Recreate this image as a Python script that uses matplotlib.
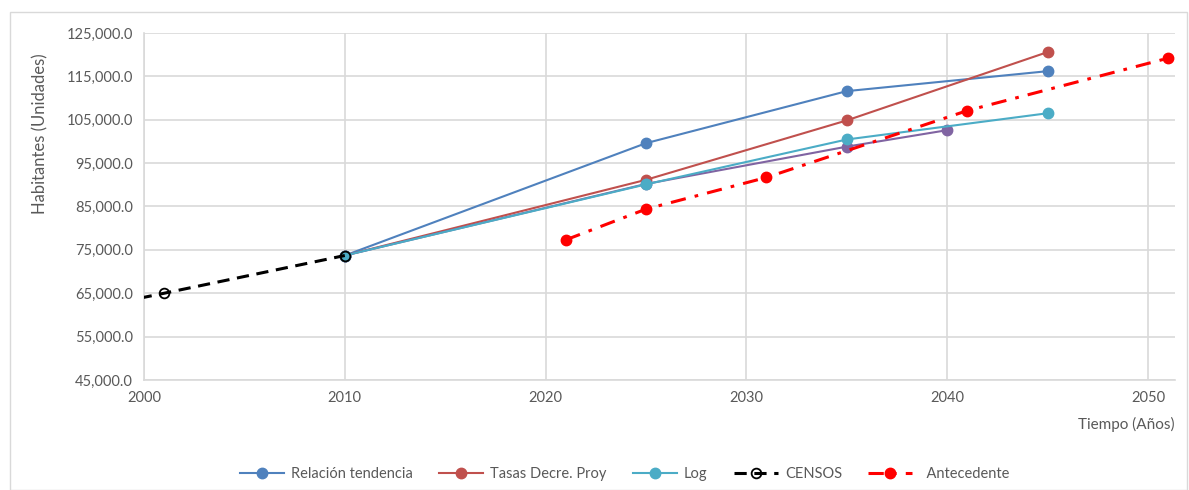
import matplotlib
matplotlib.use("Agg")
import matplotlib.pyplot as plt
from matplotlib.patches import Rectangle

plt.rcParams['font.family'] = ['Lato', 'DejaVu Sans']

# Projection methods (year -> inhabitants)
years_proj = [2010, 2025, 2035, 2045]
relacion_tendencia = [73700, 99600, 111600, 116200]
tasas_decre = [73700, 91150, 104850, 120600]
log_vals = [73700, 90100, 100450, 106500]

years_extra = [2010, 2025, 2035, 2040]
extra_vals = [73700, 90200, 98800, 102600]

years_censos = [1993, 2001, 2010]
censos = [57500, 65000, 73700]

years_ante = [2021, 2025, 2031, 2041, 2051]
antecedente = [77300, 84400, 91700, 107100, 119200]

x_ticks = [2000, 2010, 2020, 2030, 2040, 2050]
y_ticks = [45000, 55000, 65000, 75000, 85000, 95000, 105000, 115000, 125000]

W, H = 1189, 490
fig = plt.figure(figsize=(W / 100, H / 100), dpi=100)
fig.patches.append(Rectangle((10 / W, 0), (W - 12) / W, (H - 12) / H,
                             transform=fig.transFigure, fill=False,
                             edgecolor='#D9D9D9', linewidth=1.0))

ax = fig.add_axes([144 / W, 110 / H, (1175 - 144) / W, 347 / H])

grid_c = '#D9D9D9'
text_c = '#595959'

ax.plot(years_proj, relacion_tendencia, color='#4F81BD', lw=1.5, marker='o',
        ms=7.5, label='Relación tendencia', zorder=3)
ax.plot(years_proj, tasas_decre, color='#C0504D', lw=1.5, marker='o',
        ms=7.5, label='Tasas Decre. Proy', zorder=3)
ax.plot(years_extra, extra_vals, color='#8064A2', lw=1.5, marker='o',
        ms=7.5, zorder=3)
ax.plot(years_proj, log_vals, color='#4BACC6', lw=1.5, marker='o',
        ms=7.5, label='Log', zorder=3)
ax.plot(years_censos, censos, color='black', lw=2.2, dashes=(4, 2.5),
        marker='o', ms=7, mfc='none', mec='black', mew=1.3,
        label='CENSOS', zorder=5)
ax.plot(years_ante, antecedente, color='#FF0000', lw=2.2,
        dashes=(5, 3, 1.2, 3), marker='o', ms=7.5, label='  Antecedente',
        zorder=4)

ax.set_xlim(2000, 2000 + (1175 - 144) / 20.08)
ax.set_ylim(45000, 125000)
ax.set_xticks(x_ticks)
ax.set_yticks(y_ticks)
ax.set_yticklabels([f'{v:,.1f}' for v in y_ticks])
ax.grid(True, color=grid_c, lw=1.2)
ax.set_axisbelow(True)
for s in ['top', 'right']:
    ax.spines[s].set_visible(False)
for s in ['left', 'bottom']:
    ax.spines[s].set_color(grid_c)
    ax.spines[s].set_linewidth(1.2)
ax.tick_params(length=0, colors=text_c, labelsize=10.5, pad=8)

fig.text(1175 / W, 1 - 424 / H, 'Tiempo (Años)', ha='right', va='center',
         color=text_c, fontsize=11)
fig.text(40 / W, 1 - 134 / H, 'Habitantes (Unidades)', rotation=90,
         ha='center', va='center', color=text_c, fontsize=12)

leg = fig.legend(loc='center', bbox_to_anchor=(625 / W, 1 - 474 / H),
                 ncol=5, frameon=False, fontsize=10.5, handlelength=3.0,
                 columnspacing=1.8, handletextpad=0.5)
for t in leg.get_texts():
    t.set_color(text_c)

fig.savefig('out.png', dpi=100)
